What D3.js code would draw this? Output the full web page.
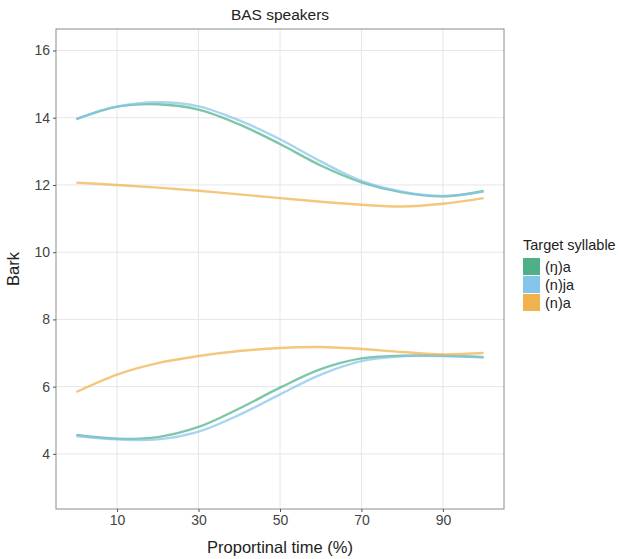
<!DOCTYPE html>
<html>
<head>
<meta charset="utf-8">
<script src="https://cdn.jsdelivr.net/npm/d3@7"></script>
<style>
  body { margin: 0; background: #fff; }
  svg { display: block; font-family: "Liberation Sans", Arial, sans-serif; }
</style>
</head>
<body>
<div id="plot"></div>
<script>
// proportional time points
const times = [0, 10, 20, 30, 40, 50, 60, 70, 80, 90, 100];
const syllables = ["(ŋ)a", "(n)ja", "(n)a"];
const colors = ["#4db088", "#85c5ec", "#efb24c"];

// upper formant tracks (Bark)
const upperNg = [13.96, 14.33, 14.40, 14.24, 13.80, 13.22, 12.58, 12.08, 11.78, 11.66, 11.82];
const upperNj = [13.96, 14.33, 14.46, 14.34, 13.92, 13.36, 12.70, 12.12, 11.80, 11.67, 11.80];
const upperN  = [12.07, 12.00, 11.92, 11.83, 11.72, 11.61, 11.50, 11.41, 11.36, 11.44, 11.61];

// lower formant tracks (Bark)
const lowerNg = [4.56, 4.45, 4.50, 4.80, 5.35, 5.97, 6.52, 6.84, 6.92, 6.92, 6.87];
const lowerNj = [4.53, 4.43, 4.43, 4.66, 5.16, 5.77, 6.36, 6.76, 6.90, 6.91, 6.88];
const lowerN  = [5.84, 6.36, 6.70, 6.91, 7.06, 7.15, 7.18, 7.12, 7.03, 6.96, 7.00];

const xTicks = [10, 30, 50, 70, 90];
const yTicks = [4, 6, 8, 10, 12, 14, 16];

const width = 619, height = 559;
const marginTop = 29, marginLeft = 56, panelRight = 504, panelBottom = 509;

const svg = d3.select("#plot").append("svg")
    .attr("width", width)
    .attr("height", height);

const x = d3.scaleLinear().domain([-5, 105]).range([marginLeft, panelRight]);
const y = d3.scaleLinear().domain([2.36, 16.64]).range([panelBottom, marginTop]);

// grid
svg.append("g").selectAll("line")
    .data(xTicks).join("line")
    .attr("x1", d => x(d)).attr("x2", d => x(d))
    .attr("y1", marginTop).attr("y2", panelBottom)
    .attr("stroke", "#e6e6e6").attr("stroke-width", 1);
svg.append("g").selectAll("line")
    .data(yTicks).join("line")
    .attr("x1", marginLeft).attr("x2", panelRight)
    .attr("y1", d => y(d)).attr("y2", d => y(d))
    .attr("stroke", "#e6e6e6").attr("stroke-width", 1);

// lines
const series = [
  {name: syllables[0], color: colors[0], vals: upperNg},
  {name: syllables[1], color: colors[1], vals: upperNj},
  {name: syllables[2], color: colors[2], vals: upperN},
  {name: syllables[0], color: colors[0], vals: lowerNg},
  {name: syllables[1], color: colors[1], vals: lowerNj},
  {name: syllables[2], color: colors[2], vals: lowerN}
];
const line = d3.line()
    .x((d, i) => x(times[i]))
    .y(d => y(d))
    .curve(d3.curveCatmullRom);

svg.append("g").selectAll("path")
    .data(series).join("path")
    .attr("d", d => line(d.vals))
    .attr("fill", "none")
    .attr("stroke", d => d.color)
    .attr("stroke-width", 2.4)
    .attr("stroke-opacity", 0.72);

// panel border
svg.append("rect")
    .attr("x", marginLeft).attr("y", marginTop)
    .attr("width", panelRight - marginLeft).attr("height", panelBottom - marginTop)
    .attr("fill", "none").attr("stroke", "#8c8c8c").attr("stroke-width", 1);

// axes
const xAxis = svg.append("g")
    .attr("transform", `translate(0,${panelBottom})`)
    .call(d3.axisBottom(x).tickValues(xTicks).tickSize(3).tickPadding(3));
const yAxis = svg.append("g")
    .attr("transform", `translate(${marginLeft},0)`)
    .call(d3.axisLeft(y).tickValues(yTicks).tickSize(3).tickPadding(3));
[xAxis, yAxis].forEach(a => {
  a.select(".domain").remove();
  a.selectAll(".tick line").attr("stroke", "#555");
  a.selectAll(".tick text").attr("fill", "#444").style("font-size", "14px")
    .style("font-family", "'Liberation Sans', Arial, sans-serif");
});

// title
svg.append("text")
    .attr("x", (marginLeft + panelRight) / 2).attr("y", 20)
    .attr("text-anchor", "middle")
    .style("font-size", "15.5px").attr("fill", "#222")
    .text("BAS speakers");

// axis titles
svg.append("text")
    .attr("x", (marginLeft + panelRight) / 2).attr("y", 553)
    .attr("text-anchor", "middle")
    .style("font-size", "16.5px").attr("fill", "#222")
    .text("Proportinal time (%)");
svg.append("text")
    .attr("transform", `translate(19,${(marginTop + panelBottom) / 2}) rotate(-90)`)
    .attr("text-anchor", "middle")
    .style("font-size", "16.5px").attr("fill", "#222")
    .text("Bark");

// legend
const legend = svg.append("g").attr("transform", "translate(523,238)");
legend.append("text")
    .attr("x", 0).attr("y", 12)
    .style("font-size", "14.5px").attr("fill", "#222")
    .text("Target syllable");
const items = legend.selectAll(".item")
    .data(syllables).join("g")
    .attr("class", "item")
    .attr("transform", (d, i) => `translate(0,${20 + i * 18})`);
items.append("rect")
    .attr("width", 17).attr("height", 17)
    .attr("fill", (d, i) => colors[i]);
items.append("text")
    .attr("x", 22).attr("y", 14)
    .style("font-size", "14.5px").attr("fill", "#222")
    .text(d => d);
</script>
</body>
</html>
